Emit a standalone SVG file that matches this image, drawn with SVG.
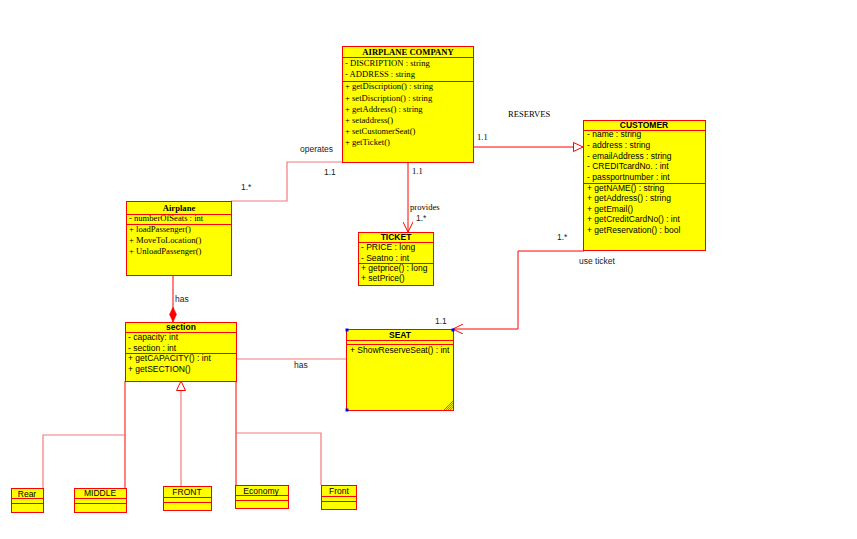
<svg xmlns="http://www.w3.org/2000/svg" width="857" height="539" viewBox="0 0 857 539">
<style>
.box{fill:#ffff00;stroke:#ff0000;stroke-width:1}
.sep{stroke:#ff0000;stroke-width:1;fill:none}
.s{font-family:"Liberation Sans",Arial,sans-serif;font-size:8.5px;fill:#000}
.t{font-family:"Liberation Serif","Times New Roman",serif;font-size:8.6px;fill:#000}
.b{font-weight:bold}
.m{text-anchor:middle}
.c{fill:none;stroke:#ff0000;stroke-width:1}
.cp{fill:none;stroke:#f47a7a;stroke-width:1.2}
.lbl{font-family:"Liberation Sans",Arial,sans-serif;font-size:8.5px;fill:#222}
</style>
<defs>
<marker id="open" viewBox="0 0 10 10" refX="10" refY="5" markerWidth="10" markerHeight="10" markerUnits="userSpaceOnUse" orient="auto">
<path d="M0,0 L10,5 L0,10" fill="none" stroke="#ff0000" stroke-width="1"/>
</marker>
<marker id="tri" viewBox="0 0 10 10" refX="10" refY="5" markerWidth="10" markerHeight="10" markerUnits="userSpaceOnUse" orient="auto">
<path d="M0.5,0.5 L10,5 L0.5,9.5 Z" fill="#ffffff" stroke="#ff0000" stroke-width="1"/>
</marker>
<marker id="dia" viewBox="0 0 15 8" refX="15" refY="4" markerWidth="15" markerHeight="8" markerUnits="userSpaceOnUse" orient="auto">
<path d="M0,4 L7.5,0.5 L15,4 L7.5,7.5 Z" fill="#ff0000" stroke="#ff0000" stroke-width="0.5"/>
</marker>
</defs>
<rect width="857" height="539" fill="#ffffff"/>

<g id="connectors">
<polyline class="cp" points="343,162 287,162 287,201 231,201"/>
<line class="c" x1="408" y1="162" x2="408" y2="232" marker-end="url(#open)"/>
<line class="c" x1="473" y1="147" x2="583" y2="147" marker-end="url(#tri)"/>
<polyline class="c" points="584,251 518,251 518,329 453,329" marker-end="url(#open)"/>
<line class="c" x1="173" y1="275" x2="173" y2="322" marker-end="url(#dia)"/>
<line class="cp" x1="236" y1="359" x2="346" y2="359"/>
<line class="c" x1="125" y1="381" x2="125" y2="488"/>
<polyline class="cp" points="125,435 43,435 43,488"/>
<line class="cp" x1="181" y1="486" x2="181" y2="381" marker-end="url(#tri)"/>
<line class="c" x1="236" y1="381" x2="236" y2="485"/>
<polyline class="cp" points="236,433 321,433 321,485"/>
<text class="lbl" x="300" y="152">operates</text>
<text class="lbl" x="324" y="175">1.1</text>
<text class="lbl" x="241" y="190">1.*</text>
<text class="t" x="412" y="174">1.1</text>
<text class="t" x="410" y="210">provides</text>
<text class="lbl" x="416" y="221">1.*</text>
<text class="t" x="508" y="117">RESERVES</text>
<text class="t" x="477" y="140">1.1</text>
<text class="lbl" x="557" y="240">1.*</text>
<text class="lbl" x="579" y="264">use ticket</text>
<text class="lbl" x="435" y="324">1.1</text>
<text class="lbl" x="175" y="302">has</text>
<text class="lbl" x="294" y="368">has</text>
</g>

<g id="airplane-company">
<rect class="box" x="342.5" y="46.5" width="131" height="116"/>
<line class="sep" x1="342.5" y1="57.5" x2="473.5" y2="57.5"/>
<line class="sep" x1="342.5" y1="81.5" x2="473.5" y2="81.5"/>
<text class="t b m" x="408" y="55">AIRPLANE COMPANY</text>
<text class="t" x="345" y="66">- DISCRIPTION : string</text>
<text class="t" x="345" y="77">- ADDRESS : string</text>
<text class="t" x="345" y="89">+ getDiscription() : string</text>
<text class="t" x="345" y="101">+ setDiscription() : string</text>
<text class="t" x="345" y="112">+ getAddress() : string</text>
<text class="t" x="345" y="123">+ setaddress()</text>
<text class="t" x="345" y="134">+ setCustomerSeat()</text>
<text class="t" x="345" y="145">+ getTicket()</text>
</g>

<g id="customer">
<rect class="box" x="583.5" y="120.5" width="122" height="130"/>
<line class="sep" x1="583.5" y1="130.5" x2="705.5" y2="130.5"/>
<line class="sep" x1="583.5" y1="183.5" x2="705.5" y2="183.5"/>
<text class="s b m" x="644" y="128">CUSTOMER</text>
<text class="s" x="587" y="137">- name : string</text>
<text class="s" x="587" y="148">- address : string</text>
<text class="s" x="587" y="159">- emailAddress : string</text>
<text class="s" x="587" y="169">- CREDITcardNo. : int</text>
<text class="s" x="587" y="180">- passportnumber : int</text>
<text class="s" x="587" y="191">+ getNAME() : string</text>
<text class="s" x="587" y="201">+ getAddress() : string</text>
<text class="s" x="587" y="212">+ getEmail()</text>
<text class="s" x="587" y="222">+ getCreditCardNo() : int</text>
<text class="s" x="587" y="233">+ getReservation() : bool</text>
</g>

<g id="airplane">
<rect class="box" x="126.5" y="201.5" width="105" height="74"/>
<line class="sep" x1="126.5" y1="214.5" x2="231.5" y2="214.5"/>
<line class="sep" x1="126.5" y1="224.5" x2="231.5" y2="224.5"/>
<text class="t b m" x="179" y="211">Airplane</text>
<text class="t" x="129" y="221">- numberOfSeats : int</text>
<text class="t" x="129" y="232">+ loadPassenger()</text>
<text class="t" x="129" y="243">+ MoveToLocation()</text>
<text class="t" x="129" y="254">+ UnloadPassenger()</text>
</g>

<g id="ticket">
<rect class="box" x="358.5" y="232.5" width="75" height="53"/>
<line class="sep" x1="358.5" y1="242.5" x2="433.5" y2="242.5"/>
<line class="sep" x1="358.5" y1="263.5" x2="433.5" y2="263.5"/>
<text class="s b m" x="396" y="240">TICKET</text>
<text class="s" x="361" y="250">- PRICE : long</text>
<text class="s" x="361" y="261">- Seatno : int</text>
<text class="s" x="361" y="271">+ getprice() : long</text>
<text class="s" x="361" y="281">+ setPrice()</text>
</g>

<g id="section">
<rect class="box" x="125.5" y="322.5" width="111" height="59"/>
<line class="sep" x1="125.5" y1="332.5" x2="236.5" y2="332.5"/>
<line class="sep" x1="125.5" y1="353.5" x2="236.5" y2="353.5"/>
<text class="s b m" x="181" y="330">section</text>
<text class="s" x="128" y="340">- capacity: int</text>
<text class="s" x="128" y="351">- section : int</text>
<text class="s" x="128" y="361">+ getCAPACITY() : int</text>
<text class="s" x="128" y="372">+ getSECTION()</text>
</g>

<g id="seat">
<rect class="box" x="346.5" y="329.5" width="107" height="81"/>
<line class="sep" x1="346.5" y1="340.5" x2="453.5" y2="340.5"/>
<line class="sep" x1="346.5" y1="344.5" x2="453.5" y2="344.5"/>
<text class="s b m" x="400" y="338">SEAT</text>
<text class="s" x="350" y="353">+ ShowReserveSeat() : int</text>
<rect x="345.5" y="328.5" width="3" height="3" fill="#0000ff"/>
<rect x="451.5" y="328.5" width="3" height="3" fill="#0000ff"/>
<rect x="345.5" y="408.5" width="3" height="3" fill="#0000ff"/>
<path d="M446,410 L453,403 M448,410 L453,405 M450,410 L453,407 M444,410 L453,401" stroke="#333" stroke-width="0.6" fill="none"/>
</g>

<g id="rear">
<rect class="box" x="11.5" y="488.5" width="32" height="24"/>
<line class="sep" x1="11.5" y1="498.5" x2="43.5" y2="498.5"/>
<line class="sep" x1="11.5" y1="503.5" x2="43.5" y2="503.5"/>
<text class="s m" x="27" y="496.5">Rear</text>
</g>

<g id="middle">
<rect class="box" x="74.5" y="488.5" width="52" height="24"/>
<line class="sep" x1="74.5" y1="498.5" x2="126.5" y2="498.5"/>
<line class="sep" x1="74.5" y1="503.5" x2="126.5" y2="503.5"/>
<text class="s m" x="100" y="496">MIDDLE</text>
</g>

<g id="front-upper">
<rect class="box" x="163.5" y="486.5" width="48" height="24"/>
<line class="sep" x1="163.5" y1="497.5" x2="211.5" y2="497.5"/>
<line class="sep" x1="163.5" y1="502.5" x2="211.5" y2="502.5"/>
<text class="s m" x="187" y="495">FRONT</text>
</g>

<g id="economy">
<rect class="box" x="235.5" y="485.5" width="53" height="23"/>
<line class="sep" x1="235.5" y1="495.5" x2="288.5" y2="495.5"/>
<line class="sep" x1="235.5" y1="500.5" x2="288.5" y2="500.5"/>
<text class="s m" x="261" y="494">Economy</text>
</g>

<g id="front">
<rect class="box" x="321.5" y="485.5" width="35" height="24"/>
<line class="sep" x1="321.5" y1="496.5" x2="356.5" y2="496.5"/>
<line class="sep" x1="321.5" y1="501.5" x2="356.5" y2="501.5"/>
<text class="s m" x="339" y="494">Front</text>
</g>
</svg>
